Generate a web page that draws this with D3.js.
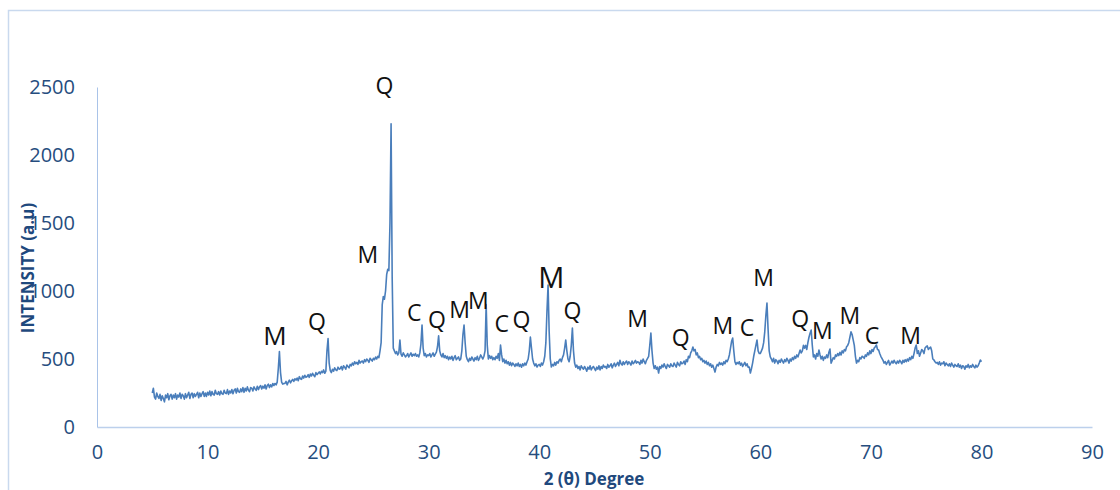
<!DOCTYPE html>
<html lang="en">
<head>
<meta charset="utf-8">
<title>XRD pattern</title>
<script src="https://cdn.jsdelivr.net/npm/d3@7"></script>
<style>
  body { margin: 0; background: #fff; }
  svg { display: block; }
</style>
</head>
<body>
<div id="chart"></div>
<script>
// scan: 5.0 -> 80.0 deg, 0.1 deg per reading, one row per degree
var scanStart = 5.0;
var scanStep = 0.1;
var intensity = [
  250, 285, 220, 205, 250, 225, 210, 240, 195, 230,
  210, 185, 235, 215, 245, 200, 230, 240, 205, 235,
  215, 245, 205, 235, 220, 250, 210, 240, 230, 205,
  245, 215, 235, 255, 210, 240, 250, 215, 245, 225,
  240, 255, 215, 250, 225, 245, 260, 225, 250, 225,
  255, 235, 265, 230, 260, 240, 235, 270, 245, 240,
  260, 235, 265, 245, 240, 270, 250, 245, 275, 240,
  265, 250, 275, 245, 270, 280, 250, 285, 260, 255,
  280, 260, 290, 255, 285, 265, 295, 270, 260, 290,
  285, 265, 295, 280, 270, 300, 275, 295, 305, 280,
  300, 285, 310, 280, 305, 315, 290, 310, 295, 320,
  305, 320, 310, 330, 430, 555, 400, 330, 315, 320,
  320, 335, 310, 330, 345, 325, 340, 350, 335, 355,
  345, 360, 340, 370, 355, 350, 375, 360, 380, 365,
  370, 385, 365, 390, 375, 395, 380, 370, 400, 385,
  395, 405, 390, 410, 400, 420, 395, 410, 560, 650,
  470, 415, 400, 425, 410, 435, 420, 415, 440, 425,
  430, 445, 420, 450, 440, 425, 455, 445, 435, 460,
  450, 470, 455, 480, 465, 475, 460, 490, 470, 480,
  485, 470, 495, 480, 500, 490, 475, 505, 495, 485,
  505, 495, 515, 500, 520, 510, 560, 620, 900, 960,
  940, 1000, 1120, 1160, 1150, 1500, 2230, 1100, 580, 560,
  540, 555, 530, 545, 640, 535, 520, 545, 530, 515,
  525, 540, 515, 530, 545, 520, 535, 525, 540, 520,
  530, 515, 545, 610, 750, 580, 525, 540, 515, 530,
  525, 540, 515, 530, 545, 520, 535, 550, 590, 670,
  560, 530, 515, 540, 510, 525, 505, 520, 495, 515,
  500, 520, 490, 510, 525, 495, 505, 515, 490, 500,
  560, 680, 750, 620, 520, 495, 480, 505, 490, 515,
  500, 485, 510, 495, 520, 490, 505, 530, 515, 500,
  520, 560, 900, 600, 500, 525, 505, 520, 495, 510,
  495, 520, 505, 540, 490, 603, 530, 480, 500, 470,
  490, 465, 480, 455, 475, 450, 470, 460, 445, 465,
  450, 470, 445, 460, 440, 465, 450, 470, 455, 480,
  500, 560, 662, 580, 500, 470, 450, 465, 441, 455,
  460, 445, 470, 455, 480, 520, 620, 850, 1044, 700,
  500, 441, 460, 450, 475, 455, 480, 470, 490, 500,
  480, 510, 530, 580, 640, 560, 500, 480, 520, 600,
  728, 560, 470, 440, 455, 430, 445, 420, 450, 435,
  425, 445, 430, 410, 440, 425, 450, 420, 435, 445,
  430, 415, 440, 425, 450, 420, 445, 430, 455, 440,
  445, 430, 460, 440, 450, 465, 435, 455, 470, 445,
  460, 475, 450, 490, 465, 455, 480, 460, 475, 485,
  460, 480, 470, 455, 485, 465, 475, 490, 470, 480,
  475, 460, 490, 470, 500, 480, 465, 490, 505, 520,
  600, 690, 560, 470, 430, 450, 425, 440, 397, 445,
  430, 455, 440, 465, 445, 430, 460, 450, 440, 465,
  450, 445, 470, 455, 440, 475, 460, 450, 480, 465,
  470, 485, 460, 495, 480, 520, 510, 545, 560, 588,
  560, 570, 530, 545, 510, 520, 495, 505, 480, 490,
  470, 485, 460, 475, 450, 465, 440, 455, 430, 404,
  440, 460, 450, 475, 460, 470, 455, 480, 465, 490,
  480, 500, 530, 580, 630, 654, 560, 480, 460, 475,
  465, 480, 455, 470, 445, 460, 475, 450, 465, 440,
  440, 397, 430, 470, 520, 560, 600, 640, 560, 540,
  540, 560, 580, 620, 700, 820, 912, 720, 560, 515,
  500, 480, 505, 470, 495, 485, 465, 490, 475, 500,
  485, 470, 495, 480, 505, 490, 470, 500, 485, 510,
  495, 520, 505, 530, 515, 540, 566, 545, 560, 600,
  580, 600, 570, 620, 660, 690, 713, 600, 515, 530,
  500, 540, 520, 566, 530, 500, 520, 490, 515, 505,
  530, 510, 550, 573, 470, 490, 510, 500, 530, 520,
  540, 525, 550, 530, 560, 545, 570, 560, 590, 600,
  620, 660, 700, 680, 640, 600, 520, 470, 490, 480,
  510, 500, 520, 515, 505, 530, 520, 545, 530, 560,
  540, 570, 555, 580, 590, 603, 570, 566, 540, 520,
  505, 490, 470, 480, 460, 475, 490, 456, 470, 485,
  470, 490, 475, 465, 485, 470, 490, 480, 465, 490,
  475, 495, 480, 500, 485, 510, 495, 520, 505, 540,
  580, 603, 540, 560, 520, 545, 570, 560, 540, 580,
  590, 596, 570, 580, 588, 560, 500, 493, 480, 470,
  475, 460, 480, 455, 470, 465, 480, 450, 470, 460,
  450, 465, 445, 470, 455, 440, 460, 450, 445, 465,
  440, 455, 430, 450, 445, 425, 450, 440, 460, 435,
  450, 440, 460, 445, 435, 455, 440, 450, 470, 493,
  480
];

// phase labels (M, Q, C), placed at 2theta / intensity
var labelText = ["M", "Q", "M", "Q", "C", "Q", "M", "M", "C", "Q", "M", "Q",
                 "M", "Q", "M", "C", "M", "Q", "M", "M", "C", "M"];
var labelX = [16.1, 19.9, 24.5, 26.0, 28.7, 30.75, 32.8, 34.5, 36.6, 38.4, 41.1, 43.0,
              48.9, 52.8, 56.6, 58.8, 60.3, 63.6, 65.6, 68.1, 70.1, 73.6];
var labelY = [676, 779, 1272, 2515, 846, 797, 868, 934, 765, 797, 1110, 860,
              801, 661, 750, 735, 1103, 801, 713, 824, 676, 676];
var labelSize = [26, 23, 23, 23, 23, 23, 23, 23, 23, 23, 29, 23,
                 23, 23, 23, 23, 23, 23, 23, 23, 23, 23];

var xTicks = [0, 10, 20, 30, 40, 50, 60, 70, 80, 90];
var yTicks = [0, 500, 1000, 1500, 2000, 2500];

var W = 1120, H = 490;
var margin = {top: 87, right: 28, bottom: 63, left: 97};
var width = W - margin.left - margin.right,
    height = H - margin.top - margin.bottom;

var svg = d3.select("#chart").append("svg")
    .attr("width", W)
    .attr("height", H);

// outer chart frame
svg.append("rect")
    .attr("x", 8.5).attr("y", 10.5)
    .attr("width", 1130).attr("height", 500)
    .attr("fill", "none")
    .attr("stroke", "#c9d9ee")
    .attr("stroke-width", 1.5);

var g = svg.append("g")
    .attr("transform", "translate(" + margin.left + "," + margin.top + ")");

var x = d3.scaleLinear().domain([0, 90]).range([0, width]);
var y = d3.scaleLinear().domain([0, 2500]).range([height, 0]);

var tickColor = "#264d7e";
var tickFont = "'Open Sans', sans-serif";

var xAxis = d3.axisBottom(x).tickValues(xTicks).tickSize(0).tickPadding(18);
var yAxis = d3.axisLeft(y).tickValues(yTicks).tickFormat(d3.format("d"))
    .tickSize(0).tickPadding(22);

var gx = g.append("g")
    .attr("transform", "translate(0," + height + ")")
    .call(xAxis);
gx.select(".domain").attr("stroke", "#bcd0ec").attr("stroke-width", 1.5);

var gy = g.append("g").call(yAxis);
gy.select(".domain").attr("stroke", "#a9c3e8").attr("stroke-width", 1);

g.selectAll(".tick text")
    .attr("fill", tickColor)
    .style("font-family", tickFont)
    .style("font-size", "20px");

// data line
var pts = intensity.map(function(v, i) {
    return {t: scanStart + i * scanStep, v: v};
});

var line = d3.line()
    .x(function(d) { return x(d.t); })
    .y(function(d) { return y(d.v); });

g.append("path")
    .datum(pts)
    .attr("fill", "none")
    .attr("stroke", "#4a7ebb")
    .attr("stroke-width", 1.6)
    .attr("stroke-linejoin", "round")
    .attr("d", line);

// phase letters
g.selectAll(".phase")
    .data(labelText)
    .enter()
    .append("text")
    .attr("class", "phase")
    .attr("x", function(d, i) { return x(labelX[i]); })
    .attr("y", function(d, i) { return y(labelY[i]); })
    .attr("text-anchor", "middle")
    .attr("dominant-baseline", "central")
    .style("font-family", tickFont)
    .style("font-size", function(d, i) { return labelSize[i] + "px"; })
    .attr("fill", "#111")
    .text(function(d) { return d; });

// axis titles
svg.append("text")
    .attr("x", 594)
    .attr("y", 485)
    .attr("text-anchor", "middle")
    .style("font-family", tickFont)
    .style("font-weight", "bold")
    .style("font-size", "17px")
    .attr("fill", "#1f497d")
    .text("2 (\u03b8) Degree");

svg.append("text")
    .attr("transform", "translate(34,268) rotate(-90)")
    .attr("text-anchor", "middle")
    .style("font-family", tickFont)
    .style("font-weight", "bold")
    .style("font-size", "17px")
    .attr("fill", "#1f497d")
    .text("INTENSITY (a.u)");
</script>
</body>
</html>
